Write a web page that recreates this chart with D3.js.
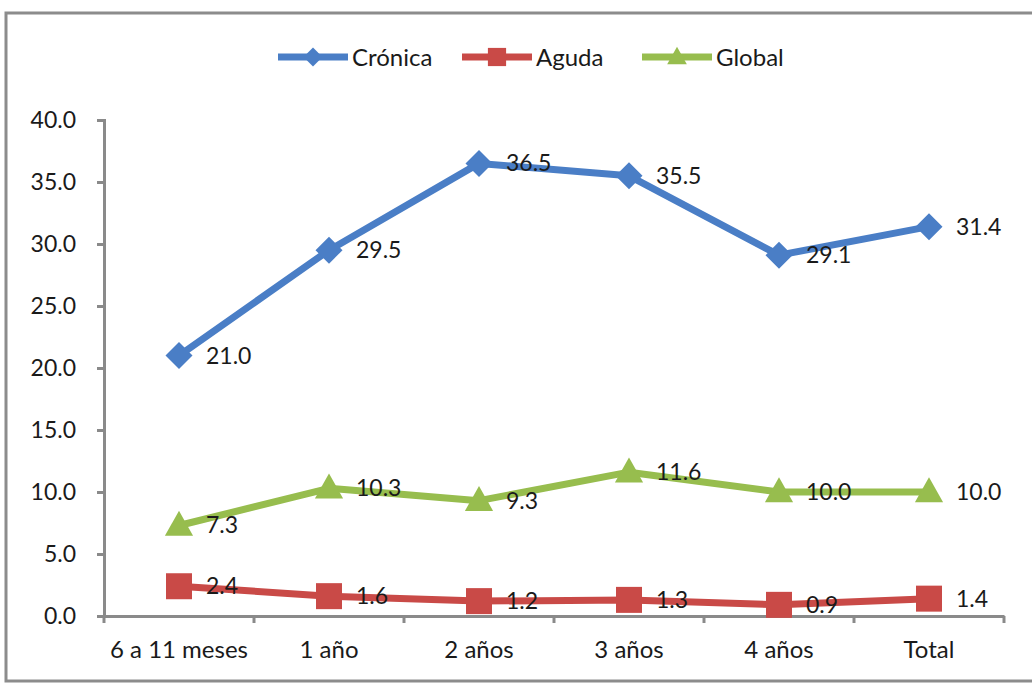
<!DOCTYPE html>
<html><head><meta charset="utf-8">
<script src="https://cdn.jsdelivr.net/npm/d3@7"></script>
<style>body{margin:0;background:#fff}svg{display:block}</style>
</head><body>
<svg id="c" width="1032" height="686"></svg>
<script>
const categories = ["6 a 11 meses","1 año","2 años","3 años","4 años","Total"];
const cronica = [21.0,29.5,36.5,35.5,29.1,31.4];
const aguda = [2.4,1.6,1.2,1.3,0.9,1.4];
const global = [7.3,10.3,9.3,11.6,10.0,10.0];
const yTicks = [0,5,10,15,20,25,30,35,40];
const seriesNames = ["Crónica","Aguda","Global"];

const series = [
  {name: seriesNames[0], values: cronica, color: "#4a7ec6", marker: "diamond"},
  {name: seriesNames[1], values: aguda, color: "#c94a47", marker: "square"},
  {name: seriesNames[2], values: global, color: "#97bd4e", marker: "triangle"}
];

const svg = d3.select("#c");
const font = "Lato, 'Open Sans', sans-serif";
const txt = "#1a1a1a";

// outer border
svg.append("rect").attr("x",6).attr("y",13).attr("width",1040).attr("height",668)
  .attr("fill","#fff").attr("stroke","#8c8c8c").attr("stroke-width",3);

const x = d3.scaleBand().domain(categories).range([104,1004]);
const y = d3.scaleLinear().domain([0,40]).range([616,120]);

// y axis
const yAxis = svg.append("g").attr("transform","translate(104,0)")
  .call(d3.axisLeft(y).tickValues(yTicks).tickSize(7).tickPadding(21).tickFormat(d3.format(".1f")));
yAxis.select(".domain").attr("stroke","#8a8a8a").attr("stroke-width",3);
yAxis.selectAll(".tick line").attr("stroke","#8a8a8a").attr("stroke-width",3);
yAxis.selectAll("text").attr("font-family",font).attr("font-size",23).attr("fill",txt);

// x axis
const xAxis = svg.append("g").attr("transform","translate(0,616)")
  .call(d3.axisBottom(x).tickSize(0).tickPadding(25));
xAxis.select(".domain").attr("stroke","#8a8a8a").attr("stroke-width",3);
xAxis.selectAll("text").attr("font-family",font).attr("font-size",24).attr("fill",txt);
const boundaries = categories.map(c => x(c)).concat([x.range()[1]]);
xAxis.selectAll(".bt").data(boundaries).join("line").attr("class","bt")
  .attr("x1",d=>d).attr("x2",d=>d).attr("y1",0).attr("y2",7)
  .attr("stroke","#8a8a8a").attr("stroke-width",3);

const cx = c => x(c) + x.bandwidth()/2;

function markerPath(type, s){
  if(type==="diamond") return `M0,${-s}L${s},0L0,${s}L${-s},0Z`;
  if(type==="square") return `M${-s},${-s}H${s}V${s}H${-s}Z`;
  return `M0,${-s*1.15}L${s*1.1},${s*0.8}L${-s*1.1},${s*0.8}Z`;
}
const mSize = {diamond:13.5, square:13, triangle:12.8};

const line = d3.line().x((d,i)=>cx(categories[i])).y(d=>y(d));

series.forEach(s => {
  const g = svg.append("g");
  g.append("path").datum(s.values).attr("d",line).attr("fill","none")
    .attr("stroke",s.color).attr("stroke-width",7).attr("stroke-linejoin","round");
  g.selectAll(".m").data(s.values).join("path").attr("class","m")
    .attr("transform",(d,i)=>`translate(${cx(categories[i])},${y(d)})`)
    .attr("d",markerPath(s.marker,mSize[s.marker])).attr("fill",s.color);
  g.selectAll(".lbl").data(s.values).join("text").attr("class","lbl")
    .attr("x",(d,i)=>cx(categories[i])+27).attr("y",d=>y(d)+8)
    .attr("font-family",font).attr("font-size",23).attr("fill",txt)
    .text(d=>d3.format(".1f")(d));
});

// legend
const legX = [278, 462, 642];
const leg = svg.append("g");
series.forEach((s,i) => {
  const lx = legX[i], ly = 57;
  leg.append("line").attr("x1",lx).attr("x2",lx+70).attr("y1",ly).attr("y2",ly)
    .attr("stroke",s.color).attr("stroke-width",7);
  leg.append("path").attr("transform",`translate(${lx+35},${ly})`)
    .attr("d",markerPath(s.marker,mSize[s.marker]*0.7)).attr("fill",s.color);
  leg.append("text").attr("x",lx+74).attr("y",ly+9).attr("font-family",font)
    .attr("font-size",24).attr("fill",txt).text(s.name);
});
</script>
</body></html>
